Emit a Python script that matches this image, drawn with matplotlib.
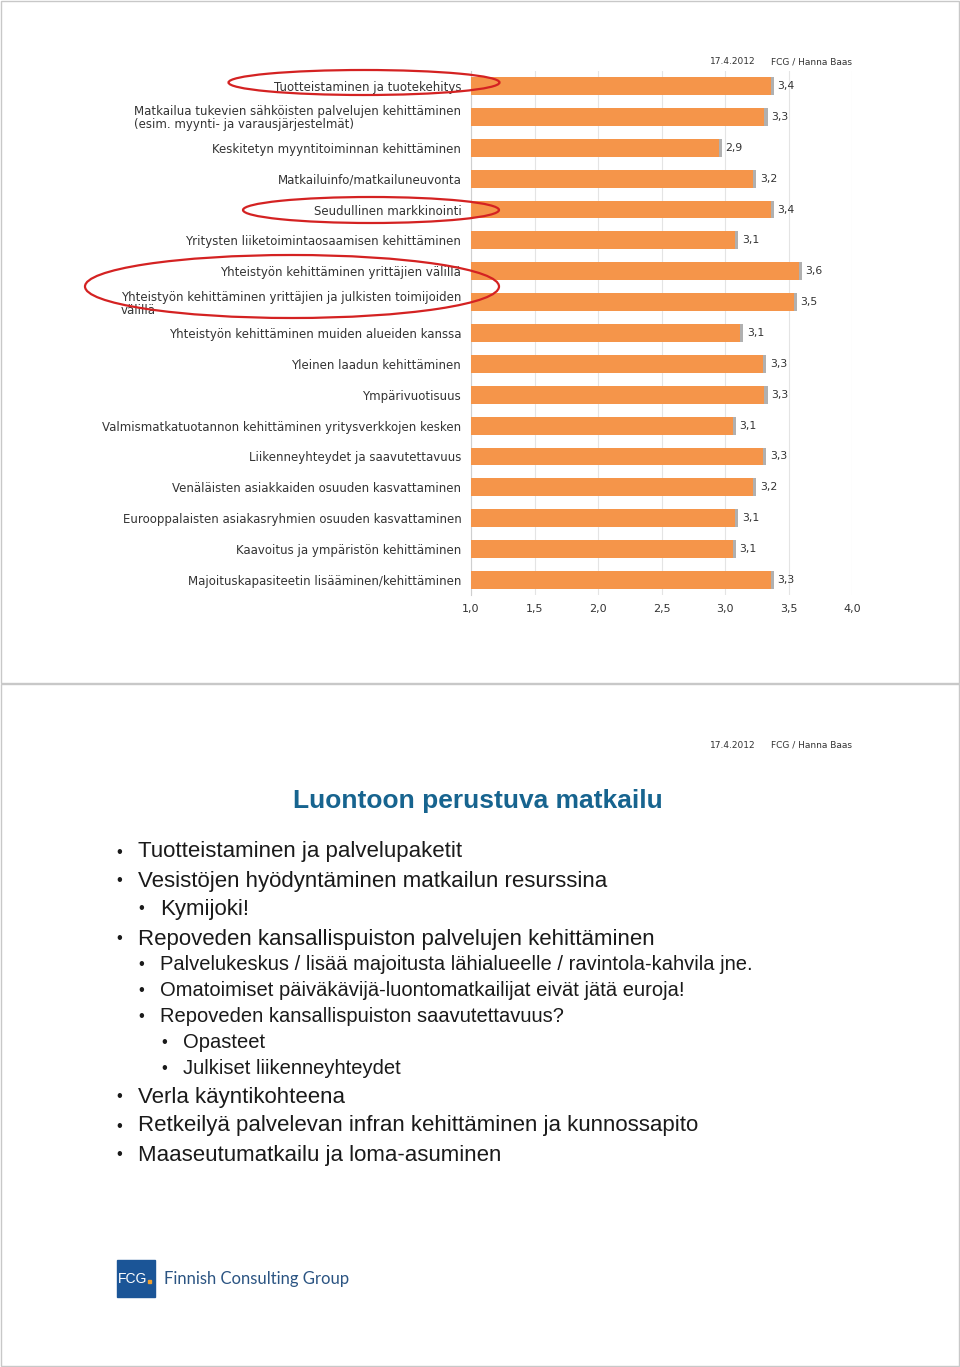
import matplotlib

matplotlib.use("Agg")
import matplotlib.pyplot as plt
from matplotlib.patches import Ellipse, Rectangle

# chart data (top slide)
categories = [
    "Tuotteistaminen ja tuotekehitys",
    "Matkailua tukevien sähköisten palvelujen kehittäminen\n(esim. myynti- ja varausjärjestelmät)",
    "Keskitetyn myyntitoiminnan kehittäminen",
    "Matkailuinfo/matkailuneuvonta",
    "Seudullinen markkinointi",
    "Yritysten liiketoimintaosaamisen kehittäminen",
    "Yhteistyön kehittäminen yrittäjien välillä",
    "Yhteistyön kehittäminen yrittäjien ja julkisten toimijoiden\nvälillä",
    "Yhteistyön kehittäminen muiden alueiden kanssa",
    "Yleinen laadun kehittäminen",
    "Ympärivuotisuus",
    "Valmismatkatuotannon kehittäminen yritysverkkojen kesken",
    "Liikenneyhteydet ja saavutettavuus",
    "Venäläisten asiakkaiden osuuden kasvattaminen",
    "Eurooppalaisten asiakasryhmien osuuden kasvattaminen",
    "Kaavoitus ja ympäristön kehittäminen",
    "Majoituskapasiteetin lisääminen/kehittäminen",
]
scores = [3.36, 3.31, 2.95, 3.22, 3.36, 3.08, 3.58, 3.54, 3.12,
          3.30, 3.31, 3.06, 3.30, 3.22, 3.08, 3.06, 3.36]
score_labels = ["3,4", "3,3", "2,9", "3,2", "3,4", "3,1", "3,6", "3,5", "3,1",
                "3,3", "3,3", "3,1", "3,3", "3,2", "3,1", "3,1", "3,3"]
x_ticks = [1.0, 1.5, 2.0, 2.5, 3.0, 3.5, 4.0]
x_tick_labels = ["1,0", "1,5", "2,0", "2,5", "3,0", "3,5", "4,0"]

# bottom slide text
slide_title = "Luontoon perustuva matkailu"
bullet_texts = [
    "Tuotteistaminen ja palvelupaketit",
    "Vesistöjen hyödyntäminen matkailun resurssina",
    "Kymijoki!",
    "Repoveden kansallispuiston palvelujen kehittäminen",
    "Palvelukeskus / lisää majoitusta lähialueelle / ravintola-kahvila jne.",
    "Omatoimiset päiväkävijä-luontomatkailijat eivät jätä euroja!",
    "Repoveden kansallispuiston saavutettavuus?",
    "Opasteet",
    "Julkiset liikenneyhteydet",
    "Verla käyntikohteena",
    "Retkeilyä palvelevan infran kehittäminen ja kunnossapito",
    "Maaseutumatkailu ja loma-asuminen",
]
bullet_levels = [1, 1, 2, 1, 2, 2, 2, 3, 3, 1, 1, 1]
header_date = "17.4.2012"
header_author = "FCG / Hanna Baas"
logo_text = "FCG"
company = "Finnish Consulting Group"

W, H = 960, 1367
BAR = "#f5954a"
TXT = "#333333"

fig = plt.figure(figsize=(W / 100, H / 100), dpi=100)

# page background in pixel coordinates
bg = fig.add_axes([0, 0, 1, 1], zorder=0)
bg.set_xlim(0, W)
bg.set_ylim(H, 0)
bg.axis("off")
for y0, y1 in [(0.5, 683), (684, 1366)]:
    bg.add_patch(Rectangle((0.5, y0), W - 2, y1 - y0, fill=False,
                           edgecolor="#c8c8c8", lw=1))

for top in (62, 745):
    bg.text(710, top, header_date, fontsize=6.5, color=TXT, va="center", ha="left")
    bg.text(852, top, header_author, fontsize=6.5, color=TXT, va="center", ha="right")

# bar chart
n = len(categories)
ax_top, ax_bot = 70.6, 595.4
ax = fig.add_axes([471 / W, 1 - ax_bot / H, 381 / W, (ax_bot - ax_top) / H], zorder=1)
ax.set_facecolor("none")
ypos = list(range(n))
# thin grey shadow on the right end of each bar
ax.barh(ypos, [s - 1.0 + 0.025 for s in scores], height=0.58, left=1.0,
        color="#b0b0b0", zorder=2)
ax.barh(ypos, [s - 1.0 for s in scores], height=0.58, left=1.0,
        color=BAR, zorder=3)
for y, s, lab in zip(ypos, scores, score_labels):
    ax.annotate(lab, (s, y), xytext=(5, 0), textcoords="offset points",
                va="center", ha="left", fontsize=7.8, color=TXT)
ax.set_xlim(1.0, 4.0)
ax.set_ylim(n - 0.5, -0.5)
ax.set_xticks(x_ticks, x_tick_labels)
ax.set_yticks(ypos, categories)
for t in ax.get_yticklabels():
    t.set_multialignment("left")
    t.set_linespacing(1.0)
ax.tick_params(axis="both", length=0, labelcolor=TXT)
ax.tick_params(axis="x", pad=6, labelsize=8)
ax.tick_params(axis="y", pad=7, labelsize=8.5)
ax.grid(axis="x", color="#e4e4e4", lw=0.8, zorder=0)
for side in ("top", "right", "bottom"):
    ax.spines[side].set_visible(False)
ax.spines["left"].set_color("#cfcfcf")

# red ellipses drawn on top in pixel coordinates
ov = fig.add_axes([0, 0, 1, 1], zorder=3)
ov.set_facecolor("none")
ov.set_xlim(0, W)
ov.set_ylim(H, 0)
ov.axis("off")
for (cx, cy, w, h) in [(364, 82.5, 271, 25), (371, 210, 256, 26), (292, 286.5, 414, 63)]:
    ov.add_patch(Ellipse((cx, cy), w, h, fill=False, edgecolor="#d42222", lw=1.6))

# bottom slide
bg.text(478, 801, slide_title, fontsize=19, fontweight="bold", color="#17648f",
        ha="center", va="center", family="Liberation Sans")

line_y = [852, 881, 909, 939, 965, 991, 1017, 1043, 1069, 1097, 1126, 1155]
indent = {1: (116, 138), 2: (138, 160), 3: (161, 183)}
size = {1: 16, 2: 14.5, 3: 14.5}
for txt, lvl, y in zip(bullet_texts, bullet_levels, line_y):
    bx, tx = indent[lvl]
    fs = size[1] if txt == "Kymijoki!" else size[lvl]
    bg.text(bx, y, "•", fontsize=12, color="#1a1a1a", ha="left", va="center",
            family="Liberation Sans")
    bg.text(tx, y, txt, fontsize=fs, color="#1a1a1a", ha="left", va="center",
            family="Liberation Sans")

# logo
bg.add_patch(Rectangle((117, 1260), 38, 37, color="#1b5597"))
bg.text(133, 1279, logo_text, fontsize=10, color="white", ha="center", va="center",
        family="Liberation Sans")
bg.add_patch(Rectangle((148, 1280), 3, 3, color="#f0a030"))
bg.text(164, 1279, company, fontsize=12, color="#2b5482", ha="left", va="center",
        family="Lato")

fig.savefig("out.png", dpi=100)
